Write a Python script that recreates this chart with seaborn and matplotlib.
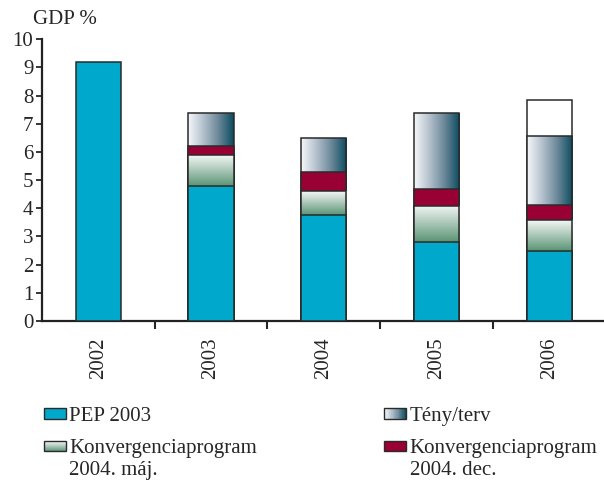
import numpy as np
import matplotlib
matplotlib.use("Agg")
import matplotlib.pyplot as plt
import seaborn as sns
from matplotlib.colors import LinearSegmentedColormap
from matplotlib.patches import Rectangle, Patch
from matplotlib.legend_handler import HandlerBase

nan = np.nan
years = ["2002", "2003", "2004", "2005", "2006"]
pep_2003 = [9.2, 4.8, 3.78, 2.8, 2.5]
konv_maj = [nan, 5.88, 4.6, 4.1, 3.57]
konv_dec = [nan, 6.2, 5.3, 4.67, 4.12]
teny_terv = [nan, 7.4, 6.5, 7.4, 6.58]
kiegeszito = [nan, nan, nan, nan, 7.83]
legend_labels = ["PEP 2003", "Konvergenciaprogram\n2004. máj.", "Tény/terv",
                 "Konvergenciaprogram\n2004. dec."]

PEP_COLOR = "#00A9CB"
DEC_COLOR = "#990033"
EDGE = "#2a2a2a"
teny_cmap = LinearSegmentedColormap.from_list(
    "teny", ["#F6F8FA", "#B4C1CD", "#6A8798", "#0A4B60"])
maj_cmap = LinearSegmentedColormap.from_list(
    "maj", ["#5A9474", "#A8C6B6", "#F3F7F5"])

FS = 15

sns.set_style("ticks")
plt.rcParams["font.family"] = ["Liberation Serif", "DejaVu Serif"]
plt.rcParams["font.size"] = FS

fig = plt.figure(figsize=(6.04, 4.84), dpi=100)
ax = fig.add_axes([41.7 / 604, 1 - 321 / 484, (606 - 41.7) / 604, (321 - 39.3) / 484])

BW = 0.4


def layer(values, z, color="white", cmap=None, vertical=False, below=None):
    n0 = len(ax.patches)
    sns.barplot(x=years, y=values, order=years, color=color, width=BW,
                saturation=1, errorbar=None, edgecolor=EDGE, linewidth=1.1,
                zorder=z, ax=ax)
    new = ax.patches[n0:]
    if cmap is None:
        return
    for p in new:
        h = p.get_height()
        if not np.isfinite(h) or h == 0:
            continue
        x0 = p.get_x()
        w = p.get_width()
        idx = int(round(x0 + w / 2))
        p.set_facecolor("none")
        p.set_zorder(z + 0.2)
        g = np.linspace(0, 1, 256)
        if vertical:
            img = g.reshape(-1, 1)
            y0 = below[idx]
        else:
            img = g.reshape(1, -1)
            y0 = 0
        im = ax.imshow(img, cmap=cmap, extent=[x0, x0 + w, y0, h], origin="lower",
                       aspect="auto", zorder=z + 0.1, interpolation="bilinear")
        im.set_clip_path(p)


layer(kiegeszito, 2, color="white")
layer(teny_terv, 3, cmap=teny_cmap)
layer(konv_dec, 4, color=DEC_COLOR)
layer(konv_maj, 5, cmap=maj_cmap, vertical=True, below=pep_2003)
layer(pep_2003, 6, color=PEP_COLOR)

ax.set_xlim(-0.5, 4.5)
ax.set_ylim(0, 10)
ax.set_yticks(range(0, 11))
ax.set_xticks([0.5, 1.5, 2.5, 3.5, 4.5])
ax.set_xticklabels([])
ax.set_xticks(range(5), minor=True)
ax.set_xticklabels(years, minor=True, rotation=90)
ax.tick_params(axis="x", which="minor", length=0, pad=12, labelsize=FS)
ax.tick_params(axis="x", which="major", length=6, width=1.5, direction="out")
ax.tick_params(axis="y", length=4.5, width=1.3, direction="out", pad=1.5, labelsize=FS)
ax.set_xlabel("")
ax.set_ylabel("")
for s in ["top", "right"]:
    ax.spines[s].set_visible(False)
for s in ["left", "bottom"]:
    ax.spines[s].set_linewidth(1.6)
    ax.spines[s].set_color("#222222")

fig.text(33 / 604, 1 - 19 / 484, "GDP %", va="center", ha="left", fontsize=FS)


class BoxHandler(HandlerBase):
    def __init__(self, color=None, cmap=None, vertical=False, dy=0.0):
        super().__init__()
        self.color = color
        self.cmap = cmap
        self.vertical = vertical
        self.dy = dy

    def create_artists(self, legend, orig_handle, xdescent, ydescent, width,
                       height, fontsize, trans):
        arts = []
        x0 = -xdescent
        y0 = -ydescent + self.dy
        if self.cmap is not None:
            n = 40
            for i in range(n):
                c = self.cmap(i / (n - 1))
                if self.vertical:
                    r = Rectangle((x0, y0 + height * i / n), width, height / n * 1.05,
                                  fc=c, ec="none", transform=trans)
                else:
                    r = Rectangle((x0 + width * i / n, y0), width / n * 1.05, height,
                                  fc=c, ec="none", transform=trans)
                arts.append(r)
            arts.append(Rectangle((x0, y0), width, height, fc="none",
                                  ec=EDGE, lw=1.0, transform=trans))
        else:
            arts.append(Rectangle((x0, y0), width, height, fc=self.color,
                                  ec=EDGE, lw=1.0, transform=trans))
        return arts


h_pep = Patch(facecolor=PEP_COLOR)
h_maj = Patch(facecolor="white")
h_teny = Patch(facecolor="white")
h_dec = Patch(facecolor=DEC_COLOR)
DY = 8.8

leg = fig.legend([h_pep, h_maj, h_teny, h_dec], legend_labels,
                 handler_map={h_pep: BoxHandler(color=PEP_COLOR),
                              h_maj: BoxHandler(cmap=maj_cmap, vertical=True, dy=DY),
                              h_teny: BoxHandler(cmap=teny_cmap),
                              h_dec: BoxHandler(color=DEC_COLOR, dy=DY)},
                 loc="upper left", bbox_to_anchor=(44 / 604, 1 - 407 / 484), ncol=2,
                 frameon=False, borderpad=0, borderaxespad=0, handlelength=1.06,
                 handleheight=0.38, handletextpad=0.16, columnspacing=6.1,
                 labelspacing=0.6, fontsize=FS)
for t in leg.get_texts():
    t.set_linespacing(1.22)

fig.savefig("out.png", dpi=100)
